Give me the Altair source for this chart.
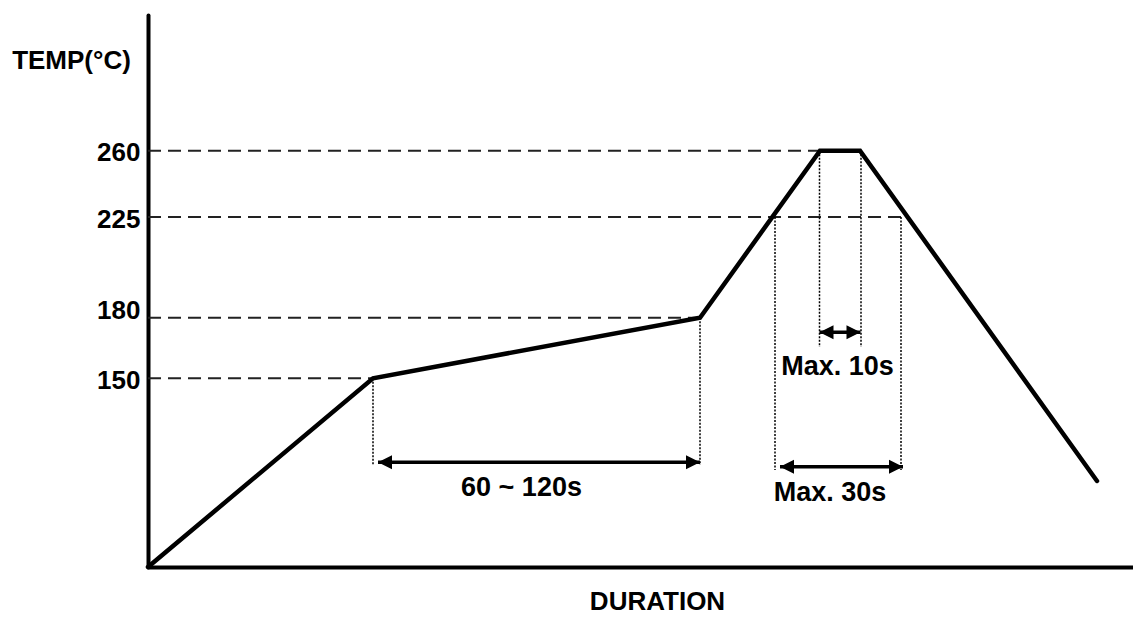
import altair as alt
import pandas as pd

# ---- data (time axis is schematic, arbitrary units) ----
profile_t = [0, 225, 552, 672, 712, 949]
profile_temp = [25, 150, 180, 260, 260, 82]

tick_temps = [150, 180, 225, 260]
dash_end_t = [225, 552, 757, 672]

guide_t = [225, 552, 627, 671.5, 713, 753]
guide_top = [150, 180, 225, 260, 260, 225]
guide_bottom = [92.6, 92.6, 89.3, 165.5, 165.5, 89.3]

arrow_start = [230, 671.5, 632]
arrow_end = [552, 712.5, 755]
arrow_temp = [94.4, 172.8, 91.4]

labels = ["60 ~ 120s", "Max. 10s", "Max. 30s"]
label_t = [373.5, 689.5, 682]
label_temp = [77.3, 155.6, 74]

# schematic (piecewise) temperature scale
y_domain = [25, 150, 180, 225, 260, 330]
y_range = [559, 370.3, 309.7, 209, 142.7, 7]

FONT = "Liberation Sans"

profile = pd.DataFrame({"t": profile_t, "temp": profile_temp})
dashes = pd.DataFrame({"t0": [0] * len(tick_temps), "t1": dash_end_t, "temp": tick_temps})
guides = pd.DataFrame({"t": guide_t, "top": guide_top, "bottom": guide_bottom})
arrows = pd.DataFrame({"t0": arrow_start, "t1": arrow_end, "temp": arrow_temp})
heads_l = pd.DataFrame({"t": arrow_start, "temp": arrow_temp})
heads_r = pd.DataFrame({"t": arrow_end, "temp": arrow_temp})
texts = pd.DataFrame({"label": labels, "t": label_t, "temp": label_temp})

xs = alt.Scale(domain=[0, 985], nice=False, zero=False)
ys = alt.Scale(domain=y_domain, range=y_range, nice=False, zero=False)

x_axis = alt.Axis(
    title="DURATION", labels=False, ticks=False, grid=False,
    domainColor="black", domainWidth=4,
    titleFont=FONT, titleFontSize=26, titleFontWeight="bold", titleColor="black",
    titleX=509, titleY=42, titleAlign="center", titleBaseline="alphabetic",
)
y_axis = alt.Axis(
    title="TEMP(°C)", values=tick_temps, format="d",
    labelFont=FONT, labelFontSize=26, labelFontWeight="bold", labelColor="black",
    labelPadding=8, labelOverlap=False, labelBound=False, labelFlush=False,
    labelOffset={"condition": {"test": "datum.value == 180", "value": -7}, "value": 2},
    ticks=False, tickSize=0, grid=False,
    domainColor="black", domainWidth=4, domainCap="round",
    titleFont=FONT, titleFontSize=26, titleFontWeight="bold", titleColor="black",
    titleAngle=0, titleX=-77, titleY=60, titleAlign="center", titleBaseline="alphabetic",
)


def X(f):
    return alt.X(f, type="quantitative", scale=xs, axis=x_axis)


def Y(f):
    return alt.Y(f, type="quantitative", scale=ys, axis=y_axis)


dash_layer = alt.Chart(dashes).mark_rule(
    color="#222222", strokeWidth=2, strokeDash=[13, 7]
).encode(x=X("t0"), x2="t1", y=Y("temp"))

guide_layer = alt.Chart(guides).mark_rule(
    color="black", strokeWidth=1.5, strokeDash=[2, 1.5]
).encode(x=X("t"), y=Y("top"), y2="bottom")

profile_layer = alt.Chart(profile).mark_line(
    color="black", strokeWidth=4.5, strokeCap="round", strokeJoin="miter"
).encode(x=X("t"), y=Y("temp"))

arrow_layer = alt.Chart(arrows).mark_rule(color="black", strokeWidth=3.5).encode(
    x=X("t0"), x2="t1", y=Y("temp")
)

head_l_layer = alt.Chart(heads_l).mark_point(
    shape="M0,0L2,-1L2,1Z", size=196, filled=True, color="black", opacity=1, strokeWidth=0
).encode(x=X("t"), y=Y("temp"))

head_r_layer = alt.Chart(heads_r).mark_point(
    shape="M0,0L-2,-1L-2,1Z", size=196, filled=True, color="black", opacity=1, strokeWidth=0
).encode(x=X("t"), y=Y("temp"))

text_layer = alt.Chart(texts).mark_text(
    font=FONT, fontSize=27, fontWeight="bold", color="black",
    align="center", baseline="middle"
).encode(x=X("t"), y=Y("temp"), text="label:N")

chart = alt.layer(
    dash_layer, guide_layer, profile_layer, arrow_layer,
    head_l_layer, head_r_layer, text_layer
).properties(
    width=985, height=559,
    padding={"left": 140, "top": 0, "right": 0, "bottom": 47},
    autosize=alt.AutoSizeParams(type="none"),
    background="white",
).configure_view(strokeWidth=0)

chart.save("out.html", embed_options={"renderer": "svg", "actions": False})
